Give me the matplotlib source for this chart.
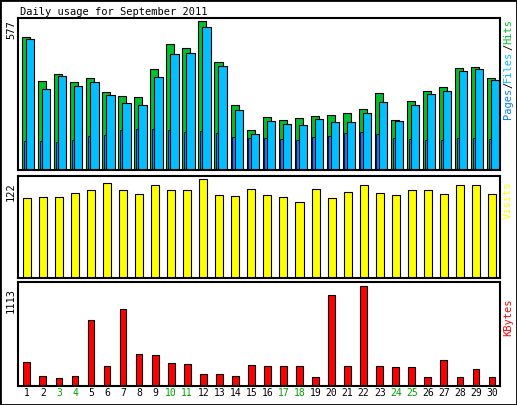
import matplotlib
matplotlib.use('Agg')
import matplotlib.pyplot as plt
import numpy as np

days = list(range(1, 31))
hits = [516, 344, 371, 339, 355, 303, 287, 283, 390, 486, 474, 577, 418, 251, 156,
        204, 192, 200, 208, 212, 220, 236, 299, 192, 269, 304, 323, 394, 398, 355]
files = [509, 315, 363, 327, 339, 291, 259, 251, 359, 450, 454, 553, 402, 232, 140,
         188, 180, 176, 196, 184, 184, 220, 263, 188, 251, 295, 307, 382, 390, 347]
pages = [112, 112, 108, 116, 132, 136, 156, 160, 160, 156, 148, 152, 144, 128, 124,
         124, 120, 116, 128, 132, 144, 148, 140, 124, 120, 116, 116, 124, 124, 120]
visits = [98, 100, 100, 105, 108, 117, 109, 104, 115, 109, 109, 122, 102, 101, 110,
          102, 100, 94, 110, 98, 106, 115, 105, 102, 109, 109, 104, 115, 114, 104]
kbytes = [267, 116, 93, 116, 730, 220, 858, 359, 348, 255, 243, 139, 128, 116, 232,
          220, 220, 220, 104, 1009, 220, 1113, 220, 209, 209, 104, 290, 104, 185, 104]
weekend = [3, 4, 10, 11, 17, 18, 24, 25]

W, H = 517, 405
fig = plt.figure(figsize=(W / 100, H / 100), dpi=100, facecolor='white')
mono = 'DejaVu Sans Mono'

def px(x, y):
    return x / W, 1 - y / H

def panel(top, bottom):
    l, b = px(18, bottom)
    ax = fig.add_axes([l, b, (500 - 18) / W, (bottom - top) / H])
    ax.set_xlim(0.45, 30.5)
    ax.set_xticks([])
    ax.set_yticks([])
    for s in ax.spines.values():
        s.set_linewidth(1.5)
    return ax

d = np.array(days)
ax1 = panel(18, 170)
ax1.bar(d - 0.3, hits, width=0.5, align='edge', color='#00C030', edgecolor='black', lw=0.8)
ax1.bar(d - 0.05, files, width=0.52, align='edge', color='#00C0FF', edgecolor='black', lw=0.8)
ax1.bar(d - 0.2, pages, width=0.15, align='edge', color='#0080FF', edgecolor='black', lw=0.6)
ax1.set_ylim(0, 577 * 1.02)

ax2 = panel(176, 278)
ax2.bar(d, visits, width=0.5, color='#FFFF00', edgecolor='black', lw=0.8)
ax2.set_ylim(0, 122 * 1.03)

ax3 = panel(282, 386)
ax3.bar(d, kbytes, width=0.42, color='#FF0000', edgecolor='black', lw=0.8)
ax3.set_ylim(0, 1113 * 1.04)

fig.text(*px(20, 12), 'Daily usage for September 2011', fontsize=7.5, family=mono, va='center')
for lab, y in [('577', 20), ('122', 182), ('1113', 288)]:
    fig.text(*px(11, y), lab, fontsize=7.5, family=mono, rotation=90, ha='center', va='top')

def side(y0, parts):
    y = y0
    for t, c in parts:
        fig.text(*px(508, y), t, fontsize=7.5, family=mono, color=c, rotation=90,
                 ha='center', va='bottom')
        y -= 6.25 * len(t)

side(119, [('Pages', '#0080FF'), ('/', 'black'), ('Files', '#00C0FF'), ('/', 'black'), ('Hits', '#00C030')])
side(219, [('Visits', '#FFFF00')])
side(336, [('KBytes', '#FF0000')])

for dd in days:
    x = 18 + (dd - 0.45) / (30.5 - 0.45) * 482
    fig.text(*px(x, 393), str(dd), fontsize=7, family=mono,
             color='#00A000' if dd in weekend else 'black', ha='center', va='center')

fig.add_artist(plt.Rectangle((0, 0), 1, 1, transform=fig.transFigure, fill=False, lw=2, ec='black'))
fig.savefig('out.png', dpi=100)
